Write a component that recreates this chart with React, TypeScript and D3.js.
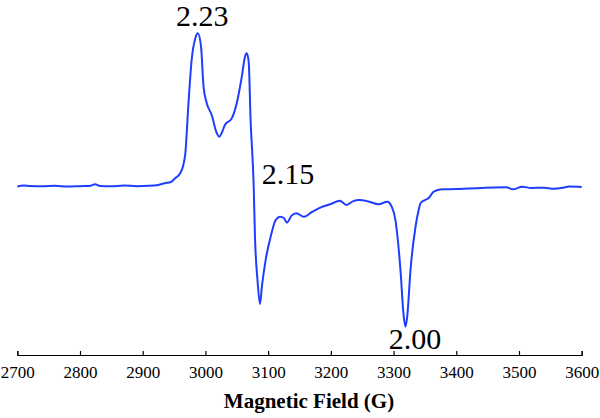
import React, { useEffect, useRef } from 'react'
import * as d3 from 'd3'

// EPR spectrum, field in gauss, intensity in arbitrary units (peak = 1)
const field = [
  2700, 2710, 2720, 2740, 2760, 2780, 2800, 2815, 2824, 2832, 2850, 2870, 2890, 2910, 2925,
  2935, 2945, 2952, 2960, 2964, 2968, 2973, 2978, 2984, 2988, 2993, 2997, 3002, 3010, 3018,
  3022, 3026, 3031, 3042, 3050, 3058, 3063, 3066, 3069, 3072, 3077, 3079, 3083, 3087, 3090,
  3096, 3104, 3112, 3119, 3125, 3130, 3137, 3145, 3157, 3170, 3185, 3200, 3214, 3225, 3235,
  3245, 3260, 3276, 3290, 3297, 3303, 3311, 3316, 3319, 3322, 3327, 3335, 3340, 3343, 3350,
  3356, 3364, 3377, 3400, 3420, 3440, 3460, 3480, 3490, 3505, 3520, 3540, 3555, 3570, 3580, 3600,
]
const intensity = [
  -0.003, 0.003, 0, -0.002, 0.001, -0.003, -0.001, 0, 0.011, 0, -0.002, 0.003, -0.001, 0.001, 0.007,
  0.018, 0.026, 0.052, 0.085, 0.126, 0.216, 0.544, 0.825, 0.969, 1.0, 0.912, 0.65, 0.544, 0.465, 0.347,
  0.323, 0.347, 0.399, 0.443, 0.544, 0.716, 0.845, 0.869, 0.812, 0.432, -0.005, -0.332, -0.616, -0.773, -0.659,
  -0.485, -0.332, -0.223, -0.201, -0.21, -0.24, -0.196, -0.179, -0.201, -0.17, -0.138, -0.118, -0.096, -0.124, -0.101,
  -0.092, -0.101, -0.12, -0.103, -0.135, -0.223, -0.55, -0.845, -0.921, -0.845, -0.55, -0.267, -0.157, -0.113, -0.092,
  -0.079, -0.037, -0.022, -0.02, -0.016, -0.013, -0.01, -0.009, -0.022, -0.005, -0.013, -0.011, -0.018, -0.012, -0.004, -0.007,
]
const xTicks = [2700, 2800, 2900, 3000, 3100, 3200, 3300, 3400, 3500, 3600]
const gLabels = ['2.23', '2.15', '2.00']
const gLabelField = [2995, 3090, 3334]
const gLabelInt = [1.045, 0.01, -1.07]

const W = 600
const H = 418
const SERIF = 'Liberation Serif, Times New Roman, Times, serif'

const App = () => {
  const ref = useRef<SVGSVGElement>(null)

  useEffect(() => {
    const svg = d3.select(ref.current)
    svg.selectAll('*').remove()

    const x = d3.scaleLinear().domain([2700, 3600]).range([17.3, 581.7])
    const y = d3.scaleLinear().domain([-1, 1]).range([338.7, 33.3])
    const axisY = 355

    const pts = field.map((f, i) => [f, intensity[i]] as [number, number])
    const line = d3.line<[number, number]>()
      .x(d => x(d[0]))
      .y(d => y(d[1]))
      .curve(d3.curveMonotoneX)

    svg.append('path')
      .datum(pts)
      .attr('d', line)
      .attr('fill', 'none')
      .attr('stroke', '#1f3dff')
      .attr('stroke-width', 2)
      .attr('stroke-linejoin', 'round')

    const ax = svg.append('g')
      .attr('transform', `translate(0,${axisY})`)
      .call(d3.axisBottom(x).tickValues(xTicks).tickSizeInner(-4).tickSizeOuter(-4).tickPadding(8).tickFormat(d3.format('d')))
    ax.attr('font-family', null).attr('font-size', null)
    ax.select('.domain').attr('stroke', '#000').attr('stroke-width', 1.2)
    ax.selectAll('.tick line').attr('stroke', '#000').attr('stroke-width', 1.2)
    ax.selectAll('.tick text')
      .style('font-family', SERIF)
      .style('font-size', '17px')
      .attr('fill', '#000')
      .attr('dy', '0.9em')

    svg.append('text')
      .attr('x', 309)
      .attr('y', 408)
      .attr('text-anchor', 'middle')
      .style('font-family', SERIF)
      .style('font-weight', 'bold')
      .style('font-size', '21px')
      .text('Magnetic Field (G)')

    svg.selectAll('.glab')
      .data(gLabels)
      .join('text')
      .attr('class', 'glab')
      .attr('x', (_, i) => x(gLabelField[i]))
      .attr('y', (_, i) => y(gLabelInt[i]))
      .attr('text-anchor', (_, i) => (i === 1 ? 'start' : 'middle'))
      .style('font-family', SERIF)
      .style('font-size', '30px')
      .attr('fill', '#000')
      .text(d => d)
  }, [])

  return (
    <svg ref={ref} width={W} height={H} style={{ position: 'absolute', left: 0, top: 0, background: '#fff' }} />
  )
}

export default App
